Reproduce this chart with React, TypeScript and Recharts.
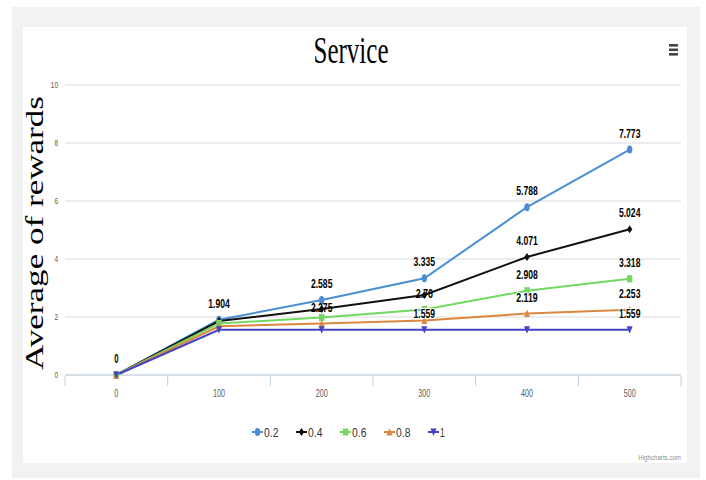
import React from 'react';
import { LineChart, Line, XAxis, YAxis, CartesianGrid, Legend, LabelList } from 'recharts';

// x categories (number of episodes)
const categories = [0, 100, 200, 300, 400, 500];

// average reward per exploration setting
const series02 = [0, 1.904, 2.585, 3.335, 5.788, 7.773];
const series04 = [0, 1.86, 2.275, 2.76, 4.071, 5.024];
const series06 = [0, 1.78, 1.98, 2.26, 2.908, 3.318];
const series08 = [0, 1.68, 1.78, 1.88, 2.119, 2.253];
const series10 = [0, 1.559, 1.559, 1.559, 1.559, 1.559];

// which points carry a visible data label (overlapping ones are hidden)
const labels02 = [0, 1, 2, 3, 4, 5];
const labels04 = [2, 3, 4, 5];
const labels06 = [4, 5];
const labels08 = [4, 5];
const labels10 = [3, 5];

// labels pushed down onto their own point because the slot above was taken
const inlineLabels04 = [2, 3];

const yTicks = [0, 2, 4, 6, 8, 10];
const seriesNames = ['0.2', '0.4', '0.6', '0.8', '1'];

type Shape = 'circle' | 'diamond' | 'square' | 'triangle' | 'triangle-down';

const seriesDefs: {
  key: string;
  name: string;
  values: number[];
  color: string;
  shape: Shape;
  labels: number[];
  inline: number[];
}[] = [
  { key: 's02', name: seriesNames[0], values: series02, color: '#4a8fd3', shape: 'circle', labels: labels02, inline: [] },
  { key: 's04', name: seriesNames[1], values: series04, color: '#111111', shape: 'diamond', labels: labels04, inline: inlineLabels04 },
  { key: 's06', name: seriesNames[2], values: series06, color: '#72d862', shape: 'square', labels: labels06, inline: [] },
  { key: 's08', name: seriesNames[3], values: series08, color: '#dd8640', shape: 'triangle', labels: labels08, inline: [] },
  { key: 's10', name: seriesNames[4], values: series10, color: '#4444c4', shape: 'triangle-down', labels: labels10, inline: [] },
];

const data = categories.map((c, i) => {
  const row: Record<string, number> = { x: c };
  seriesDefs.forEach((s) => {
    row[s.key] = s.values[i];
  });
  return row;
});

// half a category on each side, with tick marks between categories
const step = categories[1] - categories[0];
const boundaries = [...categories.map((c) => c - step / 2), categories[categories.length - 1] + step / 2];
const xTicks = [...boundaries, ...categories].sort((a, b) => a - b);

const NARROW = '"Liberation Sans", Arial, sans-serif';
const SERIF = '"Liberation Serif", "Times New Roman", serif';

function Marker({ shape, cx, cy, color }: { shape: Shape; cx: number; cy: number; color: string }) {
  const w = 2.7;
  const h = 4;
  switch (shape) {
    case 'circle':
      return <ellipse cx={cx} cy={cy} rx={w} ry={h} fill={color} />;
    case 'diamond':
      return <path d={`M${cx},${cy - h} L${cx + w},${cy} L${cx},${cy + h} L${cx - w},${cy} Z`} fill={color} />;
    case 'square':
      return <rect x={cx - w} y={cy - h + 0.5} width={w * 2} height={(h - 0.5) * 2} fill={color} />;
    case 'triangle':
      return <path d={`M${cx},${cy - h} L${cx + w + 0.3},${cy + h - 0.5} L${cx - w - 0.3},${cy + h - 0.5} Z`} fill={color} />;
    default:
      return <path d={`M${cx},${cy + h} L${cx + w + 0.3},${cy - h + 0.5} L${cx - w - 0.3},${cy - h + 0.5} Z`} fill={color} />;
  }
}

function NarrowText({ x, y, text, size, perChar, anchor = 'middle', fill = '#000', weight = 'normal', outline = false }: any) {
  const str = String(text);
  return (
    <text
      x={x}
      y={y}
      textAnchor={anchor}
      fontFamily={NARROW}
      fontSize={size}
      fontWeight={weight}
      fill={fill}
      textLength={str.length * perChar}
      lengthAdjust="spacingAndGlyphs"
      stroke={outline ? '#ffffff' : 'none'}
      strokeWidth={outline ? 2 : 0}
      paintOrder="stroke"
    >
      {str}
    </text>
  );
}

const XTick = (props: any) => {
  const { x, y, payload } = props;
  const v = payload.value;
  if (categories.includes(v)) {
    return <NarrowText x={x} y={y + 14} text={v} size={11} perChar={4} fill="#5a5a5a" />;
  }
  return <line x1={x} x2={x} y1={y - 7} y2={y + 3} stroke="#c0d0e0" strokeWidth={1} />;
};

const YTick = (props: any) => {
  const { x, y, payload } = props;
  return <NarrowText x={x} y={y + 3} text={payload.value} size={9.5} perChar={3.6} anchor="end" fill="#5a5a5a" />;
};

const makeLabel = (shown: number[], inline: number[]) => (props: any) => {
  const { x, y, value, index } = props;
  if (!shown.includes(index)) return null;
  if (inline.includes(index)) {
    return <NarrowText x={x} y={y + 3} text={value} size={12.5} perChar={4.3} weight="bold" />;
  }
  return <NarrowText x={x} y={y - 12} text={value} size={12.5} perChar={4.3} weight="bold" outline />;
};

const makeDot = (shape: Shape, color: string) => (props: any) => {
  const { cx, cy, index } = props;
  return <Marker key={`m-${shape}-${index}`} shape={shape} cx={cx} cy={cy} color={color} />;
};

const LegendContent = () => {
  const itemW = 44;
  const start = 252;
  return (
    <svg width={706} height={20}>
      {seriesDefs.map((s, i) => {
        const x0 = start + i * itemW;
        return (
          <g key={s.key}>
            <line x1={x0} x2={x0 + 11} y1={10} y2={10} stroke={s.color} strokeWidth={2} />
            <Marker shape={s.shape} cx={x0 + 5.5} cy={10} color={s.color} />
            <NarrowText x={x0 + 12} y={14.5} text={s.name} size={12} perChar={4.8} anchor="start" fill="#333" />
          </g>
        );
      })}
    </svg>
  );
};

export default function App() {
  return (
    <div style={{ position: 'absolute', left: 0, top: 0, width: 706, height: 480, background: '#ffffff', overflow: 'hidden' }}>
      <div style={{ position: 'absolute', left: 12, top: 7, width: 688, height: 471, background: '#f2f2f2' }} />
      <div style={{ position: 'absolute', left: 23, top: 27, width: 664, height: 436, background: '#ffffff' }} />
      <svg style={{ position: 'absolute', left: 0, top: 0 }} width={706} height={480}>
        <text x={351} y={63} textAnchor="middle" fontFamily={SERIF} fontSize={38} fill="#000" textLength={75} lengthAdjust="spacingAndGlyphs">
          Service
        </text>
        <text
          x={0}
          y={0}
          transform="translate(43,233) rotate(-90)"
          textAnchor="middle"
          fontFamily={SERIF}
          fontSize={26}
          fill="#000"
          textLength={274}
          lengthAdjust="spacingAndGlyphs"
        >
          Average of rewards
        </text>
        <rect x={669} y={44} width={9} height={2.6} fill="#444" />
        <rect x={669} y={48.5} width={9} height={2.6} fill="#444" />
        <rect x={669} y={53} width={9} height={2.6} fill="#444" />
        <NarrowText x={681} y={460} text="Highcharts.com" size={8} perChar={3.05} anchor="end" fill="#909090" />
      </svg>
      <div style={{ position: 'absolute', left: 0, top: 0 }}>
        <LineChart width={706} height={480} data={data} margin={{ top: 85, right: 25, bottom: 75, left: 45 }}>
          <CartesianGrid vertical={false} stroke="#dadada" strokeWidth={1} />
          <XAxis
            dataKey="x"
            type="number"
            domain={[boundaries[0], boundaries[boundaries.length - 1]]}
            ticks={xTicks}
            interval={0}
            height={30}
            stroke="#c0d0e0"
            tickLine={false}
            tick={<XTick />}
          />
          <YAxis
            type="number"
            domain={[0, 10]}
            ticks={yTicks}
            width={20}
            axisLine={false}
            tickLine={false}
            tickSize={0}
            tickMargin={7}
            tick={<YTick />}
          />
          <Legend
            verticalAlign="middle"
            align="center"
            layout="horizontal"
            wrapperStyle={{ top: 422, left: 0, width: 706, height: 20 }}
            content={<LegendContent />}
          />
          {seriesDefs.map((s) => (
            <Line
              key={s.key}
              dataKey={s.key}
              name={s.name}
              stroke={s.color}
              strokeWidth={2}
              dot={makeDot(s.shape, s.color)}
              activeDot={false}
              isAnimationActive={false}
            >
              <LabelList dataKey={s.key} content={makeLabel(s.labels, s.inline)} />
            </Line>
          ))}
        </LineChart>
      </div>
    </div>
  );
}
